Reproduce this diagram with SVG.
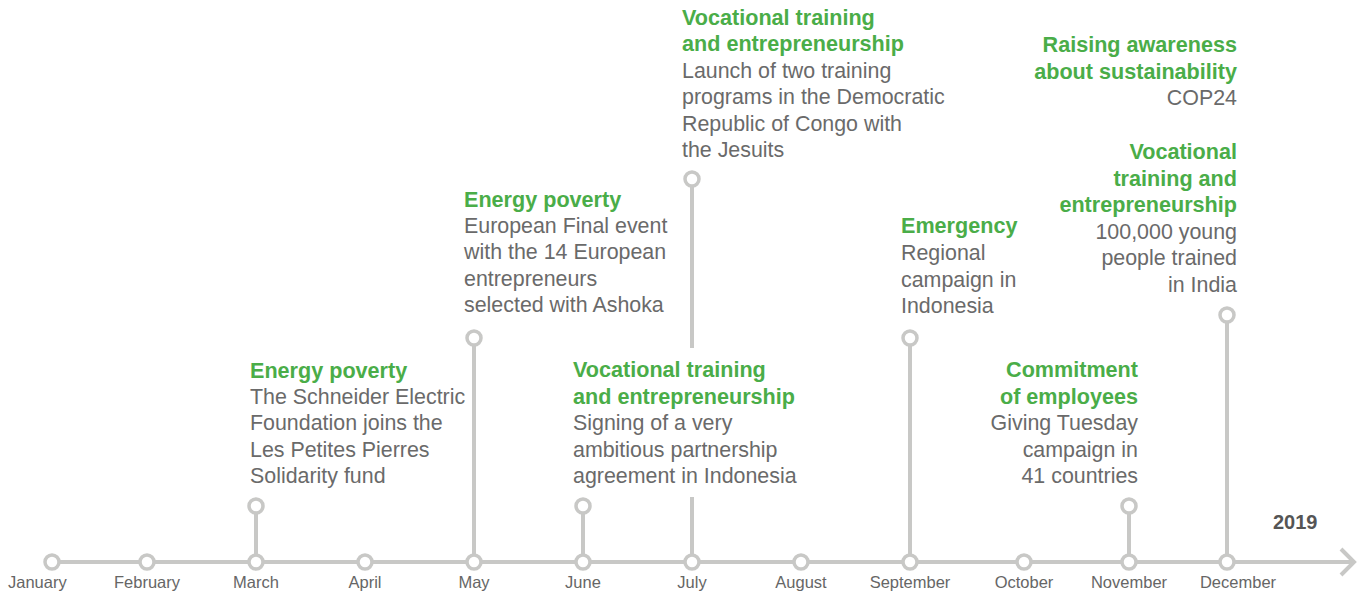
<svg xmlns="http://www.w3.org/2000/svg" width="1363" height="594" viewBox="0 0 1363 594">
<style>
.ax{stroke:#c8c8c6;stroke-width:4;fill:none;stroke-linecap:butt}
.dot{fill:#fff;stroke:#c8c8c6;stroke-width:3.5}
.m{font-family:"Liberation Sans",Arial,sans-serif;font-size:16.5px;fill:#666;text-anchor:middle}
.t{font-family:"Liberation Sans",Arial,sans-serif;font-size:21.6px;font-weight:bold;fill:#4aad48}
.b{font-family:"Liberation Sans",Arial,sans-serif;font-size:21.4px;fill:#6a6a6a}
.r{text-anchor:end}
.yr{font-family:"Liberation Sans",Arial,sans-serif;font-size:20px;font-weight:bold;fill:#555}
</style>
<rect width="1363" height="594" fill="#fff"/>
<g id="connectors">
<line class="ax" x1="52" y1="562" x2="1353" y2="562"/>
<polyline class="ax" points="1341,549 1354,562 1341,575" stroke-linejoin="miter"/>
<line class="ax" x1="256" y1="562" x2="256" y2="506"/>
<line class="ax" x1="474" y1="562" x2="474" y2="338"/>
<line class="ax" x1="583" y1="562" x2="583" y2="506"/>
<line class="ax" x1="692" y1="348" x2="692" y2="179"/>
<line class="ax" x1="692" y1="562" x2="692" y2="497"/>
<line class="ax" x1="910" y1="562" x2="910" y2="338"/>
<line class="ax" x1="1129" y1="562" x2="1129" y2="506"/>
<line class="ax" x1="1227" y1="562" x2="1227" y2="315"/>
</g>
<g id="months">
<g id="jan"><circle class="dot" cx="52" cy="562" r="7"/><text class="m" x="8" y="588" style="text-anchor:start">January</text></g>
<g id="feb"><circle class="dot" cx="147" cy="562" r="7"/><text class="m" x="147" y="588">February</text></g>
<g id="mar"><circle class="dot" cx="256" cy="562" r="7"/><text class="m" x="256" y="588">March</text></g>
<g id="apr"><circle class="dot" cx="365" cy="562" r="7"/><text class="m" x="365" y="588">April</text></g>
<g id="may"><circle class="dot" cx="474" cy="562" r="7"/><text class="m" x="474" y="588">May</text></g>
<g id="jun"><circle class="dot" cx="583" cy="562" r="7"/><text class="m" x="583" y="588">June</text></g>
<g id="jul"><circle class="dot" cx="692" cy="562" r="7"/><text class="m" x="692" y="588">July</text></g>
<g id="aug"><circle class="dot" cx="801" cy="562" r="7"/><text class="m" x="801" y="588">August</text></g>
<g id="sep"><circle class="dot" cx="910" cy="562" r="7"/><text class="m" x="910" y="588">September</text></g>
<g id="oct"><circle class="dot" cx="1024" cy="562" r="7"/><text class="m" x="1024" y="588">October</text></g>
<g id="nov"><circle class="dot" cx="1129" cy="562" r="7"/><text class="m" x="1129" y="588">November</text></g>
<g id="dec"><circle class="dot" cx="1227" cy="562" r="7"/><text class="m" x="1238" y="588">December</text></g>
<text class="yr" x="1273" y="529">2019</text>
</g>
<g id="ev-march">
<circle class="dot" cx="256" cy="506" r="7"/>
<text class="t" x="250" y="378">Energy poverty</text>
<text class="b" x="250" y="404">The Schneider Electric</text>
<text class="b" x="250" y="430">Foundation joins the</text>
<text class="b" x="250" y="457">Les Petites Pierres</text>
<text class="b" x="250" y="483">Solidarity fund</text>
</g>
<g id="ev-may">
<circle class="dot" cx="474" cy="338" r="7"/>
<text class="t" x="464" y="207">Energy poverty</text>
<text class="b" x="464" y="233">European Final event</text>
<text class="b" x="464" y="259">with the 14 European</text>
<text class="b" x="464" y="286">entrepreneurs</text>
<text class="b" x="464" y="312">selected with Ashoka</text>
</g>
<g id="ev-june">
<circle class="dot" cx="583" cy="506" r="7"/>
<text class="t" x="573" y="377">Vocational training</text>
<text class="t" x="573" y="404">and entrepreneurship</text>
<text class="b" x="573" y="430">Signing of a very</text>
<text class="b" x="573" y="457">ambitious partnership</text>
<text class="b" x="573" y="483">agreement in Indonesia</text>
</g>
<g id="ev-july">
<circle class="dot" cx="692" cy="179" r="7"/>
<text class="t" x="682" y="25">Vocational training</text>
<text class="t" x="682" y="51">and entrepreneurship</text>
<text class="b" x="682" y="78">Launch of two training</text>
<text class="b" x="682" y="104">programs in the Democratic</text>
<text class="b" x="682" y="131">Republic of Congo with</text>
<text class="b" x="682" y="157">the Jesuits</text>
</g>
<g id="ev-september">
<circle class="dot" cx="910" cy="338" r="7"/>
<text class="t" x="901" y="233">Emergency</text>
<text class="b" x="901" y="260">Regional</text>
<text class="b" x="901" y="287">campaign in</text>
<text class="b" x="901" y="313">Indonesia</text>
</g>
<g id="ev-november">
<circle class="dot" cx="1129" cy="506" r="7"/>
<text class="t r" x="1138" y="377">Commitment</text>
<text class="t r" x="1138" y="404">of employees</text>
<text class="b r" x="1138" y="430">Giving Tuesday</text>
<text class="b r" x="1138" y="457">campaign in</text>
<text class="b r" x="1138" y="483">41 countries</text>
</g>
<g id="ev-december">
<circle class="dot" cx="1227" cy="315" r="7"/>
<text class="t r" x="1237" y="52">Raising awareness</text>
<text class="t r" x="1237" y="79">about sustainability</text>
<text class="b r" x="1237" y="105">COP24</text>
<text class="t r" x="1237" y="159">Vocational</text>
<text class="t r" x="1237" y="186">training and</text>
<text class="t r" x="1237" y="212">entrepreneurship</text>
<text class="b r" x="1237" y="239">100,000 young</text>
<text class="b r" x="1237" y="265">people trained</text>
<text class="b r" x="1237" y="292">in India</text>
</g>
</svg>
